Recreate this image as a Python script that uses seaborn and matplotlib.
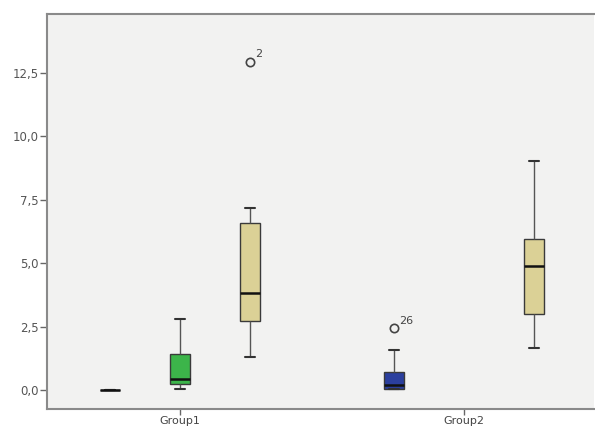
import numpy as np
import pandas as pd
import matplotlib
matplotlib.use("Agg")
import matplotlib.pyplot as plt
from matplotlib.ticker import FuncFormatter
import seaborn as sns

# ---- data (five-number summaries, plus outliers) ----
groups = ["Group1", "Group2"]
levels = ["A", "B", "C"]
g1_a = [0.0, 0.0, 0.0, 0.0, 0.0]
g1_b = [0.04, 0.24, 0.42, 1.42, 2.79]
g1_c = [1.31, 2.10, 2.72, 3.30, 3.84, 5.20, 6.60, 7.19, 12.95]
g2_a = [0.03, 0.04, 0.05, 0.12, 0.20, 0.45, 0.70, 1.56, 2.43]
g2_c = [1.67, 2.98, 4.89, 5.94, 9.04]
outlier_values = [12.95, 2.43]
outlier_ids = ["2", "26"]
yticks = [0.0, 2.5, 5.0, 7.5, 10.0, 12.5]

palette = {"A": "#2b3f9e", "B": "#3cb54a", "C": "#dbd196"}

rows = []
for g, lv, vals in [("Group1", "A", g1_a), ("Group1", "B", g1_b),
                    ("Group1", "C", g1_c), ("Group2", "A", g2_a),
                    ("Group2", "C", g2_c)]:
    for v in vals:
        rows.append({"group": g, "level": lv, "value": v})
df = pd.DataFrame(rows)

sns.set_theme(style="white")
plt.rcParams["font.family"] = ["DejaVu Sans"]

fig = plt.figure(figsize=(5.95, 4.26), dpi=100)
fig.patch.set_facecolor("white")
ax = fig.add_axes([47 / 595, 1 - 409 / 426, (594 - 47) / 595, (409 - 14) / 426])
ax.set_facecolor("#f2f2f1")

sns.boxplot(
    data=df, x="group", y="value", hue="level",
    order=groups, hue_order=levels, palette=palette,
    width=0.74, gap=0.72, whis=1.5, saturation=1,
    linecolor="#3a3a3a", linewidth=1.0,
    medianprops={"color": "#111111", "linewidth": 1.8},
    whiskerprops={"color": "#555555", "linewidth": 1.0},
    capprops={"color": "#333333", "linewidth": 1.5},
    flierprops={"marker": "o", "markerfacecolor": "none",
                "markeredgecolor": "#444444", "markersize": 6,
                "markeredgewidth": 1.2},
    legend=False, ax=ax,
)

# label outliers using flier artists' own coordinates
for ln in ax.lines:
    if ln.get_marker() == "o":
        xs, ys = ln.get_xdata(), ln.get_ydata()
        for xv, yv in zip(xs, ys):
            for ov, oid in zip(outlier_values, outlier_ids):
                if abs(yv - ov) < 1e-6:
                    ax.annotate(oid, (xv, yv), xytext=(4, 3),
                                textcoords="offset points",
                                fontsize=8, color="#444444")

ax.set_xlim(-0.468, 1.458)
ax.set_ylim(-0.75, 14.83)
ax.set_yticks(yticks)
ax.yaxis.set_major_formatter(FuncFormatter(lambda v, p: f"{v:.1f}".replace(".", ",")))
ax.set_xlabel("")
ax.set_ylabel("")

ax.tick_params(axis="y", direction="out", length=5, width=1, color="#666666",
               labelsize=8.5, labelcolor="#555555", left=True, pad=1)
ax.tick_params(axis="x", direction="out", length=4, width=1, color="#666666",
               labelsize=8, labelcolor="#444444", bottom=True, pad=1)

for side in ["left", "top", "bottom"]:
    ax.spines[side].set_color("#8a8a8a")
    ax.spines[side].set_linewidth(1.5)
ax.spines["right"].set_visible(False)

fig.savefig("out.png", dpi=100)
